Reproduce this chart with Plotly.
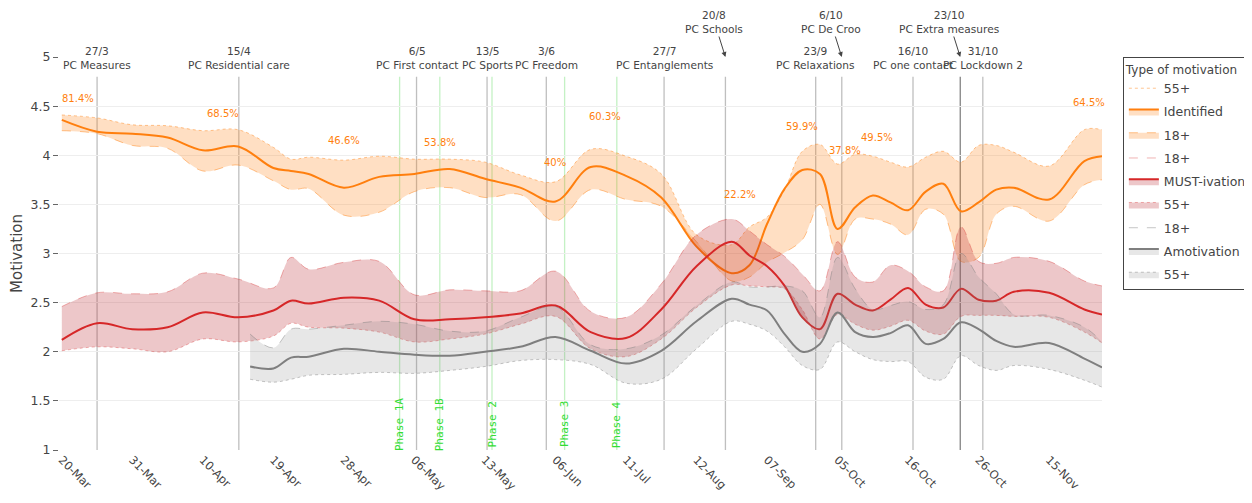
import plotly.graph_objects as go

# ---------------- data ----------------
x_idx = [0, 0.5, 1, 1.5, 2, 2.5, 3, 3.25, 3.5, 4, 4.5, 5, 5.5, 6, 6.5, 7, 7.5, 8, 8.5, 9,
         9.5, 9.75, 10, 10.25, 10.5, 10.75, 11, 11.25, 11.5, 11.75, 12, 12.25, 12.5, 12.75,
         13, 13.25, 13.5, 14, 14.5, 14.75]
x_gray = [2.67] + x_idx[6:]

tick_vals = [0, 1, 2, 3, 4, 5, 6, 7, 8, 9, 10, 11, 12, 13, 14]
tick_text = ["20-Mar", "31-Mar", "10-Apr", "19-Apr", "28-Apr", "06-May", "13-May", "06-Jun",
             "11-Jul", "12-Aug", "07-Sep", "05-Oct", "16-Oct", "26-Oct", "15-Nov"]

identified_55 = [4.41, 4.38, 4.31, 4.30, 4.25, 4.26, 4.08, 3.96, 3.98, 3.95, 3.99, 3.96, 3.96, 3.93,
                 3.80, 3.73, 4.06, 3.99, 3.81, 3.19, 3.09, 3.27, 3.37, 3.65, 4.04, 4.11, 3.91, 4.01,
                 3.99, 3.93, 3.88, 3.98, 4.04, 3.93, 4.10, 4.10, 4.03, 3.89, 4.26, 4.26]
identified_mean = [4.36, 4.24, 4.22, 4.18, 4.05, 4.09, 3.87, 3.84, 3.81, 3.67, 3.78, 3.81, 3.86, 3.76,
                   3.67, 3.53, 3.88, 3.79, 3.57, 3.07, 2.80, 2.88, 3.30, 3.66, 3.85, 3.81, 3.25, 3.47,
                   3.59, 3.52, 3.44, 3.63, 3.71, 3.43, 3.52, 3.65, 3.67, 3.55, 3.94, 3.99]
identified_18 = [4.25, 4.22, 4.10, 4.07, 3.84, 3.90, 3.74, 3.65, 3.66, 3.39, 3.42, 3.63, 3.67, 3.57,
                 3.60, 3.33, 3.65, 3.55, 3.48, 3.12, 2.72, 2.76, 2.91, 3.01, 3.14, 3.50, 2.99, 3.35,
                 3.35, 3.30, 3.19, 3.45, 3.40, 2.92, 2.96, 3.40, 3.48, 3.33, 3.70, 3.75]

must_18 = [2.46, 2.60, 2.59, 2.61, 2.80, 2.74, 2.65, 2.96, 2.84, 2.91, 2.92, 2.58, 2.63, 2.62,
           2.62, 2.82, 2.41, 2.35, 2.69, 3.19, 3.35, 3.23, 3.09, 2.97, 2.79, 2.62, 3.12, 2.76,
           2.71, 2.88, 2.82, 2.66, 2.62, 3.27, 2.92, 2.90, 2.96, 2.92, 2.72, 2.67]
must_mean = [2.12, 2.29, 2.23, 2.25, 2.40, 2.35, 2.42, 2.52, 2.49, 2.55, 2.52, 2.33, 2.33, 2.35,
             2.39, 2.47, 2.20, 2.14, 2.43, 2.87, 3.12, 2.98, 2.87, 2.67, 2.35, 2.23, 2.59, 2.48,
             2.42, 2.53, 2.65, 2.48, 2.45, 2.64, 2.53, 2.52, 2.61, 2.60, 2.43, 2.38]
must_55 = [2.01, 2.05, 2.03, 2.00, 2.13, 2.10, 2.16, 2.29, 2.25, 2.24, 2.20, 2.10, 2.13, 2.18,
           2.28, 2.36, 2.03, 1.95, 2.13, 2.45, 2.68, 2.67, 2.66, 2.64, 2.43, 2.13, 2.38, 2.28,
           2.22, 2.26, 2.32, 2.21, 2.18, 2.36, 2.37, 2.37, 2.36, 2.35, 2.20, 2.09]

amot_18 = [2.18, 2.04, 2.23, 2.23, 2.27, 2.31, 2.28, 2.21, 2.21, 2.35, 2.46, 2.07, 2.03, 2.17,
           2.47, 2.71, 2.66, 2.66, 2.67, 2.62, 2.35, 2.96, 2.64, 2.43, 2.47, 2.51, 2.43, 2.48,
           3.00, 2.76, 2.59, 2.38, 2.37, 2.25, 2.10]
amot_mean = [1.85, 1.83, 1.94, 1.95, 2.03, 2.00, 1.97, 1.96, 2.00, 2.05, 2.15, 2.01, 1.88, 2.01,
             2.31, 2.54, 2.48, 2.42, 2.18, 2.00, 2.08, 2.40, 2.20, 2.15, 2.19, 2.27, 2.08, 2.13,
             2.30, 2.23, 2.11, 2.05, 2.09, 1.93, 1.84]
amot_55 = [1.72, 1.69, 1.72, 1.76, 1.77, 1.79, 1.78, 1.81, 1.85, 1.91, 1.92, 1.87, 1.68, 1.72,
           2.03, 2.31, 2.28, 2.21, 2.05, 1.86, 1.82, 2.10, 2.00, 1.92, 1.90, 1.90, 1.74, 1.72,
           1.96, 1.86, 1.81, 1.86, 1.82, 1.71, 1.64]

event_x = [0.50, 2.51, 5.03, 6.03, 6.87, 8.54, 9.41, 10.69, 11.06, 12.07, 12.74, 13.06]
event_date = ["27/3", "15/4", "6/5", "13/5", "3/6", "27/7", "20/8", "23/9", "6/10", "16/10", "23/10", "31/10"]
event_name = ["PC Measures", "PC Residential care", "PC First contact", "PC Sports", "PC Freedom",
              "PC Entanglements", "PC Schools", "PC Relaxations", "PC De Croo", "PC one contact",
              "PC Extra measures", "PC Lockdown 2"]
event_arrow = [False, False, False, False, False, False, True, False, True, False, True, False]

phase_x = [4.79, 5.36, 6.10, 7.13, 7.87]
phase_name = ["Phase 1A", "Phase 1B", "Phase 2", "Phase 3", "Phase 4"]

pct_text = ["81.4%", "68.5%", "46.6%", "53.8%", "40%", "60.3%", "22.2%", "59.9%", "37.8%", "49.5%", "64.5%"]
pct_x = [0.23, 2.28, 4.00, 5.36, 6.99, 7.70, 9.62, 10.50, 11.11, 11.56, 14.57]
pct_y = [4.58, 4.43, 4.15, 4.13, 3.93, 4.39, 3.60, 4.29, 4.05, 4.18, 4.54]

# ---------------- figure ----------------
FONT = "DejaVu Sans"
fig = go.Figure()
_count = [0]

def add(x, y, name, color, width, dash=None, fill=None, fillcolor=None):
    _count[0] += 1
    fig.add_trace(go.Scatter(
        x=x, y=y, name=name, mode="lines", legendgroup="g%02d" % _count[0],
        line=dict(color=color, width=width, dash=dash, shape="spline"),
        fill=fill, fillcolor=fillcolor, hoverinfo="skip"))

o_line, o_soft, o_fill = "#ff7f0e", "rgba(255,127,14,0.45)", "rgba(255,127,14,0.25)"
r_line, r_soft, r_fill = "#d62728", "rgba(214,39,40,0.35)", "rgba(185,30,40,0.25)"
g_line, g_soft, g_fill = "#7f7f7f", "rgba(127,127,127,0.45)", "rgba(127,127,127,0.19)"

add(x_idx, identified_55, "55+", o_soft, 1, "dot")
add(x_idx, identified_mean, "Identified", o_line, 2, None, "tonexty", o_fill)
add(x_idx, identified_18, "18+", o_soft, 1, "dash", "tonexty", o_fill)

add(x_idx, must_18, "18+", r_soft, 1, "dash")
add(x_idx, must_mean, "MUST-ivation", r_line, 2, None, "tonexty", r_fill)
add(x_idx, must_55, "55+", r_soft, 1, "dot", "tonexty", r_fill)

add(x_gray, amot_18, "18+", g_soft, 1, "dash")
add(x_gray, amot_mean, "Amotivation", g_line, 2, None, "tonexty", g_fill)
add(x_gray, amot_55, "55+", g_soft, 1, "dot", "tonexty", g_fill)

shapes = []
for i, ex in enumerate(event_x):
    col = "rgba(90,90,90,0.75)" if event_date[i] == "23/10" else "rgba(128,128,128,0.5)"
    shapes.append(dict(type="line", xref="x", yref="y", x0=ex, x1=ex, y0=1, y1=4.8,
                       line=dict(color=col, width=1.3), layer="below"))
for px in phase_x:
    shapes.append(dict(type="line", xref="x", yref="y", x0=px, x1=px, y0=1, y1=4.8,
                       line=dict(color="rgba(60,210,60,0.3)", width=1.3), layer="below"))

annotations = []
for i, ex in enumerate(event_x):
    txt = event_date[i] + "<br>" + event_name[i]
    if event_arrow[i]:
        annotations.append(dict(x=ex, y=5, xref="x", yref="y", text=txt, showarrow=True,
                                ax=-11, ay=-35, arrowhead=2, arrowsize=1, arrowwidth=1,
                                arrowcolor="#444", font=dict(family=FONT, size=10.6, color="#444")))
    else:
        annotations.append(dict(x=ex, y=4.8, xref="x", yref="y", text=txt, showarrow=False,
                                yanchor="bottom", yshift=4,
                                font=dict(family=FONT, size=10.6, color="#444")))
for i, px in enumerate(phase_x):
    annotations.append(dict(x=px, y=1.26, xref="x", yref="y", text=phase_name[i], showarrow=False,
                            textangle=-90, yanchor="middle",
                            font=dict(family="DejaVu Sans Mono", size=11, color="#33dd33")))
for t, xx, yy in zip(pct_text, pct_x, pct_y):
    annotations.append(dict(x=xx, y=yy, xref="x", yref="y", text=t, showarrow=False,
                            font=dict(family=FONT, size=10, color="#ff7f0e")))

fig.update_layout(
    width=1244, height=495,
    margin=dict(l=51, r=150, t=49, b=53, autoexpand=False),
    paper_bgcolor="white", plot_bgcolor="white",
    font=dict(family=FONT, color="#444"),
    shapes=shapes, annotations=annotations,
    legend=dict(x=1.02, y=1, xanchor="left", yanchor="top", traceorder="grouped",
                tracegroupgap=4, itemwidth=30,
                bordercolor="#444", borderwidth=1, bgcolor="white",
                font=dict(family=FONT, size=12.5, color="#444"),
                title=dict(text="Type of motivation", font=dict(family=FONT, size=12, color="#444"))),
    xaxis=dict(range=[-0.04, 14.75], tickmode="array", tickvals=tick_vals, ticktext=tick_text,
               tickangle=45, showgrid=False, zeroline=False, showline=False, ticks="",
               tickfont=dict(family=FONT, size=11.5, color="#444")),
    yaxis=dict(range=[1, 5], dtick=0.5, showgrid=True, gridcolor="#eeeeee", zeroline=False,
               ticks="outside", ticklen=5, tickcolor="#666",
               tickfont=dict(family=FONT, size=12.5, color="#444"),
               title=dict(text="Motivation", font=dict(family=FONT, size=15, color="#444"))),
)

fig.write_html("out.html")
